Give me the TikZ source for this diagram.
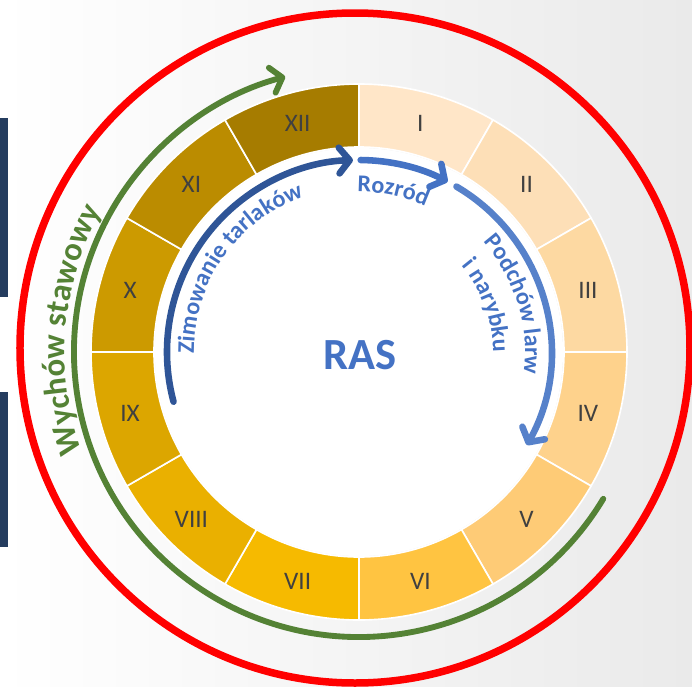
\documentclass[tikz,border=0pt]{standalone}
\usepackage{fontspec}
\setmainfont{Carlito}
\usetikzlibrary{arrows.meta,decorations.text}

\definecolor{rasblue}{RGB}{68,114,196}
\definecolor{darkblue}{RGB}{47,85,151}
\definecolor{lightblue}{RGB}{86,129,202}
\definecolor{pondgreen}{RGB}{84,130,53}
\definecolor{navy}{RGB}{37,61,95}
\definecolor{bggray}{RGB}{234,234,234}
\definecolor{numgray}{RGB}{64,64,64}
\definecolor{mI}{RGB}{255,230,200}
\definecolor{mII}{RGB}{253,223,183}
\definecolor{mIII}{RGB}{253,217,162}
\definecolor{mIV}{RGB}{254,210,140}
\definecolor{mV}{RGB}{254,203,118}
\definecolor{mVI}{RGB}{255,196,65}
\definecolor{mVII}{RGB}{246,186,0}
\definecolor{mVIII}{RGB}{234,176,0}
\definecolor{mIX}{RGB}{220,166,0}
\definecolor{mX}{RGB}{204,154,0}
\definecolor{mXI}{RGB}{187,140,0}
\definecolor{mXII}{RGB}{166,124,0}

\begin{document}
\begin{tikzpicture}[x=0.03cm,y=0.03cm,
  seg/.style={draw=white,line width=1.4pt},
  month node/.style={text=numgray,font=\fontsize{21.5}{24}\selectfont},
  phase arrow/.style={line width=5.6pt,line cap=round,
    -{Straight Barb[length=9pt,width=22pt,line cap=round,line join=round]}},
  arc label/.style={decorate,decoration={text along path,text align=center,
    text={|\fontsize{20.5}{24}\selectfont\bfseries\color{rasblue}|#1}}}]

  \useasboundingbox (-359,-334) rectangle (333,352);
  \shade[left color=white,right color=bggray] (-359,-334) rectangle (333,352);
  \fill[navy] (-359,234) rectangle (-351,55);
  \fill[navy] (-359,-40) rectangle (-351,-195);

  % red frame
  \draw[red,line width=6.4pt] (-4,4) circle[radius=335];

  % months ring
  \filldraw[seg,fill=mI]    (90:205) arc[start angle=90,end angle=60,radius=205] -- (60:268) arc[start angle=60,end angle=90,radius=268] -- cycle;
  \filldraw[seg,fill=mII]   (60:205) arc[start angle=60,end angle=30,radius=205] -- (30:268) arc[start angle=30,end angle=60,radius=268] -- cycle;
  \filldraw[seg,fill=mIII]  (30:205) arc[start angle=30,end angle=0,radius=205] -- (0:268) arc[start angle=0,end angle=30,radius=268] -- cycle;
  \filldraw[seg,fill=mIV]   (0:205) arc[start angle=0,end angle=-30,radius=205] -- (-30:268) arc[start angle=-30,end angle=0,radius=268] -- cycle;
  \filldraw[seg,fill=mV]    (-30:205) arc[start angle=-30,end angle=-60,radius=205] -- (-60:268) arc[start angle=-60,end angle=-30,radius=268] -- cycle;
  \filldraw[seg,fill=mVI]   (-60:205) arc[start angle=-60,end angle=-90,radius=205] -- (-90:268) arc[start angle=-90,end angle=-60,radius=268] -- cycle;
  \filldraw[seg,fill=mVII]  (-90:205) arc[start angle=-90,end angle=-120,radius=205] -- (-120:268) arc[start angle=-120,end angle=-90,radius=268] -- cycle;
  \filldraw[seg,fill=mVIII] (-120:205) arc[start angle=-120,end angle=-150,radius=205] -- (-150:268) arc[start angle=-150,end angle=-120,radius=268] -- cycle;
  \filldraw[seg,fill=mIX]   (-150:205) arc[start angle=-150,end angle=-180,radius=205] -- (-180:268) arc[start angle=-180,end angle=-150,radius=268] -- cycle;
  \filldraw[seg,fill=mX]    (180:205) arc[start angle=180,end angle=150,radius=205] -- (150:268) arc[start angle=150,end angle=180,radius=268] -- cycle;
  \filldraw[seg,fill=mXI]   (150:205) arc[start angle=150,end angle=120,radius=205] -- (120:268) arc[start angle=120,end angle=150,radius=268] -- cycle;
  \filldraw[seg,fill=mXII]  (120:205) arc[start angle=120,end angle=90,radius=205] -- (90:268) arc[start angle=90,end angle=120,radius=268] -- cycle;
  \fill[white] (0,0) circle[radius=204];

  \node[month node] (m1)  at (75:237)   {I};
  \node[month node] (m2)  at (45:237)   {II};
  \node[month node] (m3)  at (15:237)   {III};
  \node[month node] (m4)  at (-15:237)  {IV};
  \node[month node] (m5)  at (-45:237)  {V};
  \node[month node] (m6)  at (-75:237)  {VI};
  \node[month node] (m7)  at (-105:237) {VII};
  \node[month node] (m8)  at (-135:237) {VIII};
  \node[month node] (m9)  at (-165:237) {IX};
  \node[month node] (m10) at (165:237)  {X};
  \node[month node] (m11) at (135:237)  {XI};
  \node[month node] (m12) at (105:237)  {XII};

  \node[text=rasblue,font=\fontsize{38}{44}\selectfont\bfseries] (ras) at (1,-3) {RAS};

  % phase arrows
  \coordinate (winter) at (195:192);
  \coordinate (spawn)  at (89.5:192);
  \coordinate (rear)   at (59.5:192);
  \coordinate (pond)   at (-31:285);
  \draw[phase arrow,darkblue]  (winter) arc[start angle=195,end angle=91.8,radius=192];
  \draw[phase arrow,rasblue]   (spawn) arc[start angle=89.5,end angle=62.5,radius=192];
  \draw[phase arrow,lightblue] (rear) arc[start angle=59.5,end angle=-29,radius=192];
  \draw[line width=5pt,line cap=round,pondgreen,
    -{Straight Barb[length=9pt,width=22pt,line cap=round,line join=round]}]
    (pond) arc[start angle=-31,end angle=-255,radius=285];

  % labels on arcs
  \path[arc label={Zimowanie tarlaków}] (215:165) arc[start angle=215,end angle=75,radius=165];
  \path[arc label={Rozród}] (118:160) arc[start angle=118,end angle=38,radius=160];
  \path[arc label={Podchów larw}] (77:166) arc[start angle=77,end angle=-43,radius=166];
  \path[arc label={i narybku}] (80:134) arc[start angle=80,end angle=-40,radius=134];
  \path[decorate,decoration={text along path,text align=center,
    text={|\fontsize{28}{32}\selectfont\bfseries\color{pondgreen}|Wychów stawowy}}]
    (225:294) arc[start angle=225,end angle=126,radius=294];
\end{tikzpicture}
\end{document}
